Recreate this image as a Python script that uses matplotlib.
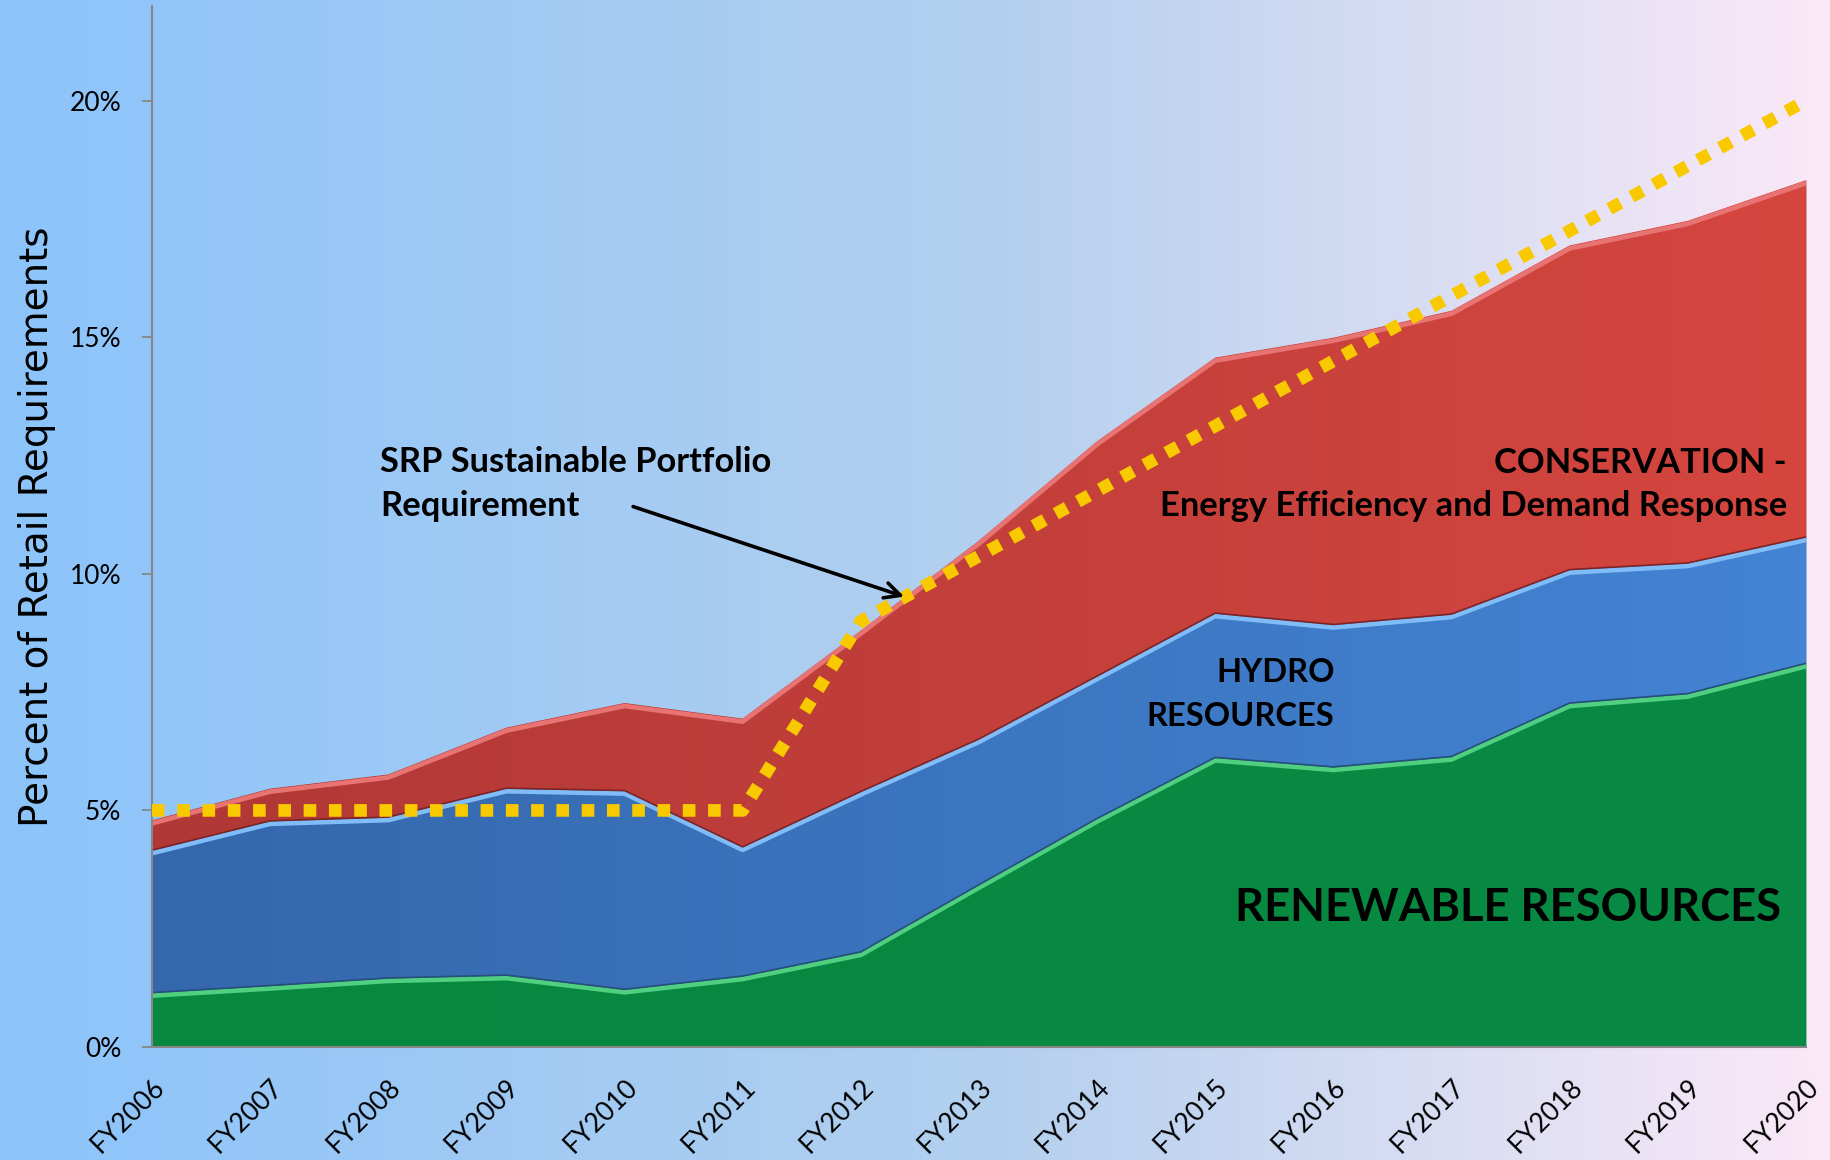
import numpy as np
import matplotlib
matplotlib.use('Agg')
import matplotlib.pyplot as plt
from matplotlib.colors import LinearSegmentedColormap
import matplotlib.transforms as mtransforms

# data (percent of retail requirements)
years = ['FY2006', 'FY2007', 'FY2008', 'FY2009', 'FY2010', 'FY2011', 'FY2012', 'FY2013',
         'FY2014', 'FY2015', 'FY2016', 'FY2017', 'FY2018', 'FY2019', 'FY2020']
renewable = [1.15, 1.3, 1.46, 1.52, 1.22, 1.5, 2.01, 3.43, 4.83, 6.12, 5.92, 6.14, 7.27, 7.47, 8.11]
hydro = [3.01, 3.48, 3.40, 3.95, 4.20, 2.73, 3.39, 3.08, 3.01, 3.05, 3.01, 3.01, 2.82, 2.76, 2.67]
conservation = [0.63, 0.68, 0.90, 1.28, 1.85, 2.71, 3.40, 4.19, 4.96, 5.40, 6.06, 6.41, 6.85, 7.23, 7.54]
requirement = [5, 5, 5, 5, 5, 5, 9.0, 10.375, 11.75, 13.125, 14.5, 15.875, 17.25, 18.625, 20.0]

font_cal = ['Lato', 'DejaVu Sans']

x = np.arange(len(years))
green_top = np.array(renewable)
blue_top = green_top + np.array(hydro)
red_top = blue_top + np.array(conservation)

fig = plt.figure(figsize=(18.31, 11.6), dpi=100)

# background gradient
bg = fig.add_axes([0, 0, 1, 1], zorder=-10)
bg_cmap = LinearSegmentedColormap.from_list('bg', [(0, '#8cc4fb'), (0.55, '#b4d0ee'), (1.0, '#fbe9f7')])
bg.imshow(np.linspace(0, 1, 256).reshape(1, -1), cmap=bg_cmap, aspect='auto', extent=[0, 1, 0, 1])
bg.axis('off')

ax = fig.add_axes([0.083, 0.0974, 0.9033, 0.8974])
ax.patch.set_alpha(0)

layers = [
    (np.zeros(len(x)), green_top, '#07883f', '#078a44', '#4fcf7f'),
    (green_top, blue_top, '#3567ac', '#4384d4', '#80bcf7'),
    (blue_top, red_top, '#b03836', '#d5463f', '#e87373'),
]
grad = np.linspace(0, 1, 256).reshape(1, -1)
for lo, hi, c_left, c_right, c_hi in layers:
    poly = ax.fill_between(x, lo, hi, color=c_left, lw=0, zorder=1)
    cmap = LinearSegmentedColormap.from_list('g', [c_left, c_right])
    im = ax.imshow(grad, cmap=cmap, aspect='auto', extent=[0, 14, 0, 22], zorder=1.5)
    im.set_clip_path(poly.get_paths()[0], transform=ax.transData)
    # bevel highlight just under the top edge
    off = mtransforms.offset_copy(ax.transData, fig=fig, x=0, y=-3, units='dots')
    ax.plot(x, hi, color=c_hi, lw=3.4, transform=off, zorder=2, solid_joinstyle='round')

# dark seams between layers
ax.plot(x, green_top, color='#264f7d', lw=1.2, zorder=2.2)
ax.plot(x, blue_top, color='#7e2424', lw=1.2, zorder=2.2)
ax.plot(x, np.zeros(len(x)), color='#05552a', lw=2, zorder=2.2)

# requirement line
ax.plot(x, requirement, color='#f9c900', lw=9.1, ls=(0, (1, 1)), dash_capstyle='butt',
        zorder=3, clip_on=False)

ax.set_xlim(0, 14)
ax.set_ylim(0, 22)

ax.set_yticks([0, 5, 10, 15, 20])
ax.set_yticklabels(['0%', '5%', '10%', '15%', '20%'], family=font_cal, fontsize=19)
ax.set_xticks(x)
ax.set_xticklabels(years, family=font_cal, fontsize=19, rotation=45, ha='right', va='top',
                   rotation_mode='anchor')
ax.set_xticks(x[::2], minor=True)
ax.tick_params(axis='x', which='major', length=0, pad=20)
ax.tick_params(axis='x', which='minor', length=6, width=1.3, color='#868686', direction='out')
ax.tick_params(axis='y', length=7, width=1.3, color='#868686', pad=15)

for s in ['top', 'right']:
    ax.spines[s].set_visible(False)
for s in ['left', 'bottom']:
    ax.spines[s].set_color('#868686')
    ax.spines[s].set_linewidth(1.5)

fig.text(37 / 1831, 1 - 527 / 1160, 'Percent of Retail Requirements', rotation=90,
         ha='center', va='center', fontsize=28, family='DejaVu Sans')

# annotations
ax.text(1.93, 12.16, 'SRP Sustainable Portfolio', family=font_cal, weight='bold', fontsize=24.8,
        ha='left', va='baseline', zorder=5)
ax.text(1.93, 11.22, 'Requirement', family=font_cal, weight='bold', fontsize=24.8,
        ha='left', va='baseline', zorder=5)
ax.annotate('', xy=(6.39, 9.5), xytext=(4.05, 11.44),
            arrowprops=dict(arrowstyle='->', color='black', lw=2.6, mutation_scale=28), zorder=5)

ax.text(13.84, 12.13, 'CONSERVATION -', family=font_cal, weight='bold', fontsize=24.8,
        ha='right', va='baseline', zorder=5)
ax.text(13.84, 11.22, 'Energy Efficiency and Demand Response', family=font_cal, weight='bold',
        fontsize=24.8, ha='right', va='baseline', zorder=5)
ax.text(10.01, 7.72, 'HYDRO', family=font_cal, weight='bold', fontsize=23.5,
        ha='right', va='baseline', zorder=5)
ax.text(10.01, 6.79, 'RESOURCES', family=font_cal, weight='bold', fontsize=23.5,
        ha='right', va='baseline', zorder=5)
ax.text(13.79, 2.67, 'RENEWABLE RESOURCES', family=font_cal, weight='bold', fontsize=32.7,
        ha='right', va='baseline', zorder=5)

fig.savefig('out.png', dpi=100)
